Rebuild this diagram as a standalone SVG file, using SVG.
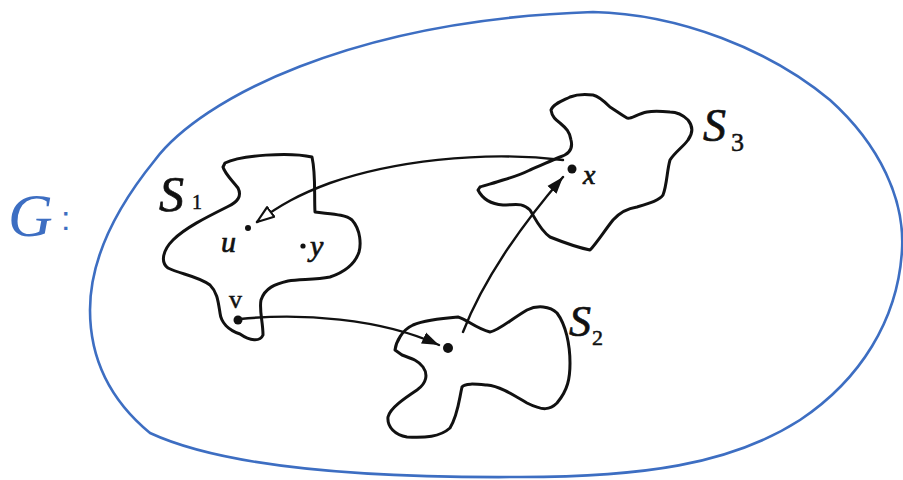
<svg xmlns="http://www.w3.org/2000/svg" width="903" height="480" viewBox="0 0 903 480">
<style>
.blob{fill:none;stroke:#111;stroke-width:3;stroke-linejoin:round;stroke-linecap:round}
.edge{fill:none;stroke:#111;stroke-width:2.4;stroke-linecap:round}
.lbl{font-family:"Liberation Serif",serif;font-style:italic;fill:#111;stroke:#111;stroke-width:0.7}
.sub{font-family:"Liberation Serif",serif;fill:#111;stroke:#111;stroke-width:0.5}
.dot{fill:#111}
</style>
<defs>
<marker id="solid" markerUnits="userSpaceOnUse" markerWidth="18" markerHeight="14" viewBox="0 0 18 14" refX="17" refY="7" orient="auto">
<path d="M0,1 L17,7 L0,13 Z" fill="#111"/>
</marker>
<marker id="hollow" markerUnits="userSpaceOnUse" markerWidth="20" markerHeight="16" viewBox="0 0 20 16" refX="18" refY="8" orient="auto">
<path d="M1,2 L18,8 L1,14 Z" fill="#fff" stroke="#111" stroke-width="2.2" stroke-linejoin="round"/>
</marker>
</defs>
<rect width="903" height="480" fill="#fff"/>

<g id="G">
<path d="M593,12 C680,14 770,50 830,100 C880,145 905,200 902,250 C898,320 860,380 800,420 C730,465 640,477 520,477 C380,478 230,470 150,433 C110,400 90,360 90,310 C90,260 116,208 155,160 C200,100 350,20 593,12 Z" fill="none" stroke="#3d6ec2" stroke-width="2.6"/>
<text x="8" y="236" font-family="Liberation Serif, serif" font-style="italic" font-size="62" fill="#3d6ec2">G</text>
<text x="61" y="230" font-family="Liberation Sans, sans-serif" font-size="34" fill="#3d6ec2">:</text>
</g>

<g id="S1">
<path class="blob" d="M225,163 C240,155 290,152 312,157 C316,175 314,195 315,212 C330,214 345,214 352,220 C361,230 361,245 359,252 C355,264 345,272 330,277 C315,280 300,279 288,281 C275,284 265,288 261,300 C259,310 263,322 263,335 C260,342 250,341 240,334 C228,330 221,322 220,313 C218,300 217,292 210,285 C198,276 180,274 168,268 C160,262 163,250 173,240 C185,228 205,218 227,207 C238,202 242,196 238,188 C232,180 225,174 223,167 Z"/>
<text class="lbl" x="159" y="211" font-size="50">S</text>
<text class="sub" x="192" y="209" font-size="20">1</text>
<circle class="dot" cx="248" cy="228" r="3"/>
<text class="lbl" x="221" y="252" font-size="30">u</text>
<circle class="dot" cx="303" cy="246" r="2.6"/>
<text class="lbl" x="310" y="256" font-size="30">y</text>
<circle class="dot" cx="238" cy="320" r="4.5"/>
<text class="sub" x="229" y="308" font-size="26">v</text>
</g>

<g id="S2">
<path class="blob" d="M395,350 C396,342 402,330 413,325 C425,320 445,318 458,317 C468,320 475,328 490,332 C498,331 510,320 527,310 C537,305 550,306 557,313 C566,325 570,345 570,363 C570,378 568,390 557,403 C550,410 543,411 527,403 C515,396 500,386 487,385 C475,384 465,383 462,387 C459,400 458,415 450,428 C440,437 425,438 407,437 C395,435 387,427 388,417 C390,408 405,398 417,390 C427,383 428,374 423,367 C418,360 410,358 402,355 Z"/>
<text class="lbl" x="569" y="336" font-size="44">S</text>
<text class="sub" x="592" y="345" font-size="22">2</text>
<circle class="dot" cx="448" cy="348" r="5"/>
</g>

<g id="S3">
<path class="blob" d="M478,190 C482,198 490,204 503,205 C515,205 522,202 530,210 C535,218 540,230 550,237 C565,243 580,248 590,250 C596,244 605,230 613,220 C622,210 630,208 637,207 C650,203 660,200 663,195 C667,185 667,170 670,160 C675,152 683,147 688,140 C694,132 692,125 688,120 C682,114 675,112 670,112 C660,111 652,111 647,112 C637,114 630,120 627,118 C620,114 615,110 610,107 C603,100 598,96 593,95 C585,94 575,95 570,97 C562,101 553,104 551,110 C552,117 556,120 560,123 C566,128 570,132 571,140 C573,148 570,154 560,157 C548,162 540,166 530,170 C520,175 510,178 503,180 C495,183 485,185 480,187 Z"/>
<text class="lbl" x="703" y="141" font-size="46">S</text>
<text class="sub" x="731" y="151" font-size="26">3</text>
<circle class="dot" cx="572" cy="169" r="4.5"/>
<text class="lbl" x="583" y="184" font-size="28">x</text>
</g>

<g id="connectors">
<path class="edge" d="M563,160 C480,150 390,162 330,183 C300,194 280,205 257,222" marker-end="url(#hollow)"/>
<path class="edge" d="M240,319 C300,313 380,318 439,345" marker-end="url(#solid)"/>
<path class="edge" d="M463,332 Q490,262 563,177" marker-end="url(#solid)"/>
</g>
</svg>
